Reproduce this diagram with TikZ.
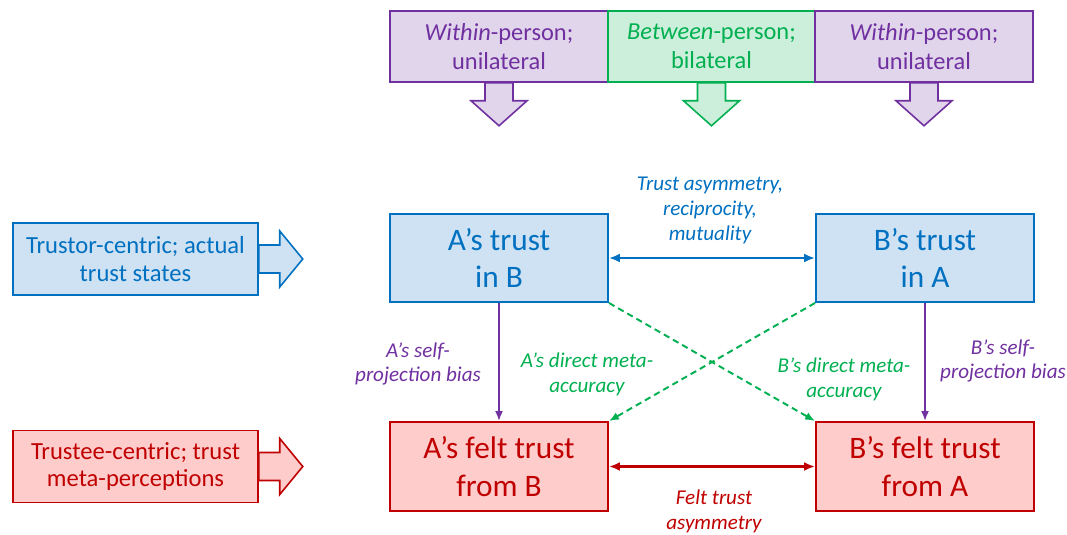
\documentclass[tikz,border=0pt]{standalone}
\usepackage{fontspec}
\setmainfont{Carlito}
\usepackage{xcolor}
\usepackage{tikz}
\usetikzlibrary{arrows.meta, positioning}

\definecolor{bluedk}{HTML}{0070C0}
\definecolor{bluelt}{HTML}{CFE2F3}
\definecolor{reddk}{HTML}{C00000}
\definecolor{redlt}{HTML}{FFCCCC}
\definecolor{purpdk}{HTML}{7030A0}
\definecolor{purplt}{HTML}{E1D5EC}
\definecolor{grndk}{HTML}{00B050}
\definecolor{grnlt}{HTML}{CCEFDC}

\begin{document}
\begin{tikzpicture}[x=0.02cm, y=-0.02cm,
  box/.style={draw, line width=1.1pt, align=center, inner sep=0pt},
  trustbox/.style={box, draw=bluedk, fill=bluelt, text=bluedk,
    minimum width=4.36cm, minimum height=1.76cm,
    font=\fontsize{17.8}{21.5}\selectfont},
  feltbox/.style={box, draw=reddk, fill=redlt, text=reddk,
    minimum width=4.36cm, minimum height=1.78cm,
    font=\fontsize{17.8}{21.5}\selectfont},
  toptag/.style={box, line width=0.9pt, minimum height=1.42cm,
    font=\fontsize{13.9}{16.4}\selectfont},
  sidetag/.style={box, line width=0.9pt, minimum width=4.9cm,
    minimum height=1.44cm, font=\fontsize{14}{15.9}\selectfont},
  blockarrow/.style={line width=0.9pt, line join=miter},
  link/.style={line width=1.4pt, {Latex[length=2.2mm,width=1.8mm]}-{Latex[length=2.2mm,width=1.8mm]}},
  proj/.style={line width=1.1pt, draw=purpdk, -{Latex[length=2mm,width=1.6mm]}},
  meta/.style={line width=1.1pt, draw=grndk, dash pattern=on 3.6pt off 2.4pt,
    -{Latex[length=2mm,width=1.6mm]}},
  lbl/.style={align=center, inner sep=0pt,
    font=\fontsize{12}{14.2}\selectfont\itshape}]
\useasboundingbox (0,0) rectangle (1067,534);

% top tags
\node[toptag, draw=purpdk, fill=purplt, text=purpdk, minimum width=4.36cm]
  (withinA) at (499,46.5) {\textit{Within}-person;\\unilateral};
\node[toptag, draw=grndk, fill=grnlt, text=grndk, minimum width=4.14cm]
  (between) at (711.5,46.5) {\textit{Between}-person;\\bilateral};
\node[toptag, draw=purpdk, fill=purplt, text=purpdk, minimum width=4.36cm]
  (withinB) at (924,46.5) {\textit{Within}-person;\\unilateral};

\foreach \tag/\dk/\lt in {withinA/purpdk/purplt, between/grndk/grnlt, withinB/purpdk/purplt}
  \draw[blockarrow, draw=\dk, fill=\lt] ([xshift=-2.8mm]\tag.south) -- ++(0,-3.6mm)
    -- ++(-2.8mm,0) -- ++(5.6mm,-5mm) -- ++(5.6mm,5mm) -- ++(-2.8mm,0)
    -- ++(0,3.6mm) -- cycle;

% side tags
\node[sidetag, draw=bluedk, fill=bluelt, text=bluedk]
  (trustor) at (135.5,259) {Trustor-centric; actual\\trust states};
\node[sidetag, draw=reddk, fill=redlt, text=reddk]
  (trustee) at (135.5,466.5) {Trustee-centric; trust\\meta-perceptions};

\foreach \tag/\dk/\lt in {trustor/bluedk/bluelt, trustee/reddk/redlt}
  \draw[blockarrow, draw=\dk, fill=\lt] ([yshift=2.8mm]\tag.east) -- ++(4.2mm,0)
    -- ++(0,2.8mm) -- ++(4.6mm,-5.6mm) -- ++(-4.6mm,-5.6mm) -- ++(0,2.8mm)
    -- ++(-4.2mm,0) -- cycle;

% trust states
\node[trustbox] (atrust) at (499,258) {A’s trust\\in B};
\node[trustbox] (btrust) at (925,258) {B’s trust\\in A};
\node[feltbox] (afelt) at (499,466.5) {A’s felt trust\\from B};
\node[feltbox] (bfelt) at (925,466.5) {B’s felt trust\\from A};

% connectors
\draw[link, draw=bluedk] (atrust.east) -- (btrust.west);
\draw[link, draw=reddk] (afelt.east) -- (bfelt.west);
\draw[proj] (atrust.south) -- (afelt.north);
\draw[proj] (btrust.south) -- (bfelt.north);
\draw[meta] (atrust.south east) -- (bfelt.north west);
\draw[meta] (btrust.south west) -- (afelt.north east);

% labels
\node[lbl, text=bluedk] (asym) at (710,210) {Trust asymmetry,\\reciprocity,\\mutuality};
\node[lbl, text=reddk] (feltasym) at (714,511) {Felt trust\\asymmetry};
\node[lbl, text=purpdk] (aproj) at (418,364) {A’s self-\\projection bias};
\node[lbl, text=purpdk] (bproj) at (1003,361) {B’s self-\\projection bias};
\node[lbl, text=grndk] (ameta) at (587,374) {A’s direct meta-\\accuracy};
\node[lbl, text=grndk] (bmeta) at (844,379) {B’s direct meta-\\accuracy};
\end{tikzpicture}
\end{document}
